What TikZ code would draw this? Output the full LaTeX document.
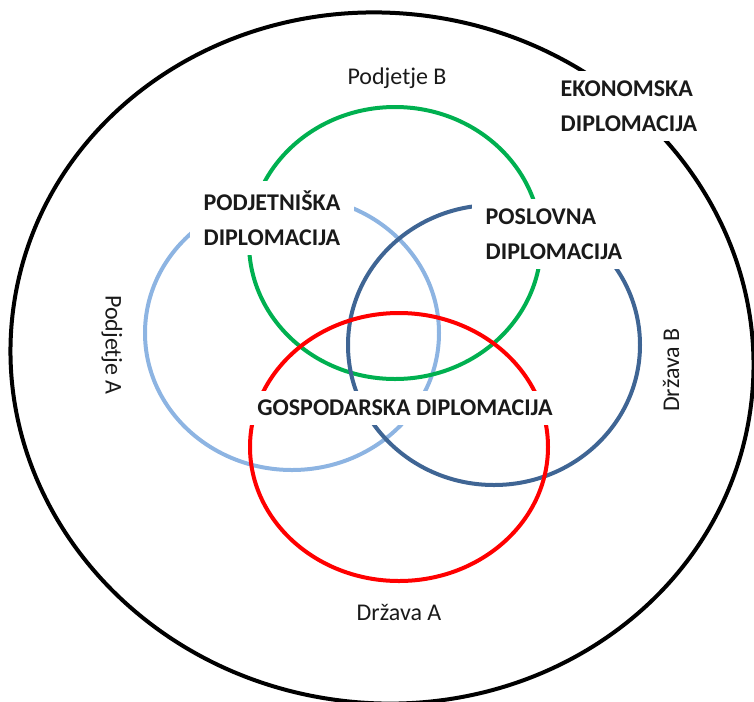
\documentclass[tikz,border=0pt]{standalone}
\usepackage{fontspec}
\setmainfont{Carlito}
\definecolor{ink}{HTML}{1A1A1A}
\definecolor{firmA}{HTML}{8DB4E2}
\definecolor{firmB}{HTML}{00B050}
\definecolor{stateA}{HTML}{FF0000}
\definecolor{stateB}{HTML}{3F6594}
\tikzset{
  ring/.style={line width=3pt, line cap=round},
  head/.style={
    font=\fontsize{18}{26}\selectfont\bfseries,
    text=ink,
    fill=white,
    align=left,
    inner xsep=10pt,
    inner ysep=7pt
  },
  side/.style={
    font=\fontsize{18}{22}\selectfont,
    text=ink,
    inner sep=1pt
  }
}

\begin{document}
\begin{tikzpicture}[x=0.75pt,y=-0.75pt]
  \useasboundingbox (0,0) rectangle (754,701);

  \draw[ring, draw=black, rotate around={-8:(382,358)}]
    (382,358) ellipse [x radius=372, y radius=345];

  \draw[ring, draw=firmA] (292,333) ellipse [x radius=147, y radius=137];
  \draw[ring, draw=firmB] (395,243) ellipse [x radius=146, y radius=136];
  \draw[ring, draw=stateB] (494,345) ellipse [x radius=146, y radius=140];
  \draw[ring, draw=stateA] (399,447) ellipse [x radius=149, y radius=134];

  \node[side] (firmBlbl) at (397,78) {Podjetje B};
  \node[side] (stateAlbl) at (399,612) {Država A};
  \node[side, rotate=-90] (firmAlbl) at (112,345) {Podjetje A};
  \node[side, rotate=90] (stateBlbl) at (671,370) {Država B};

  \node[head] (econ) at (629,106) {EKONOMSKA\\DIPLOMACIJA};
  \node[head] (entre) at (272,218) {PODJETNIŠKA\\DIPLOMACIJA};
  \node[head] (busi) at (554,234) {POSLOVNA\\DIPLOMACIJA};
  \node[head] (comm) at (405,408) {GOSPODARSKA DIPLOMACIJA};
\end{tikzpicture}
\end{document}
